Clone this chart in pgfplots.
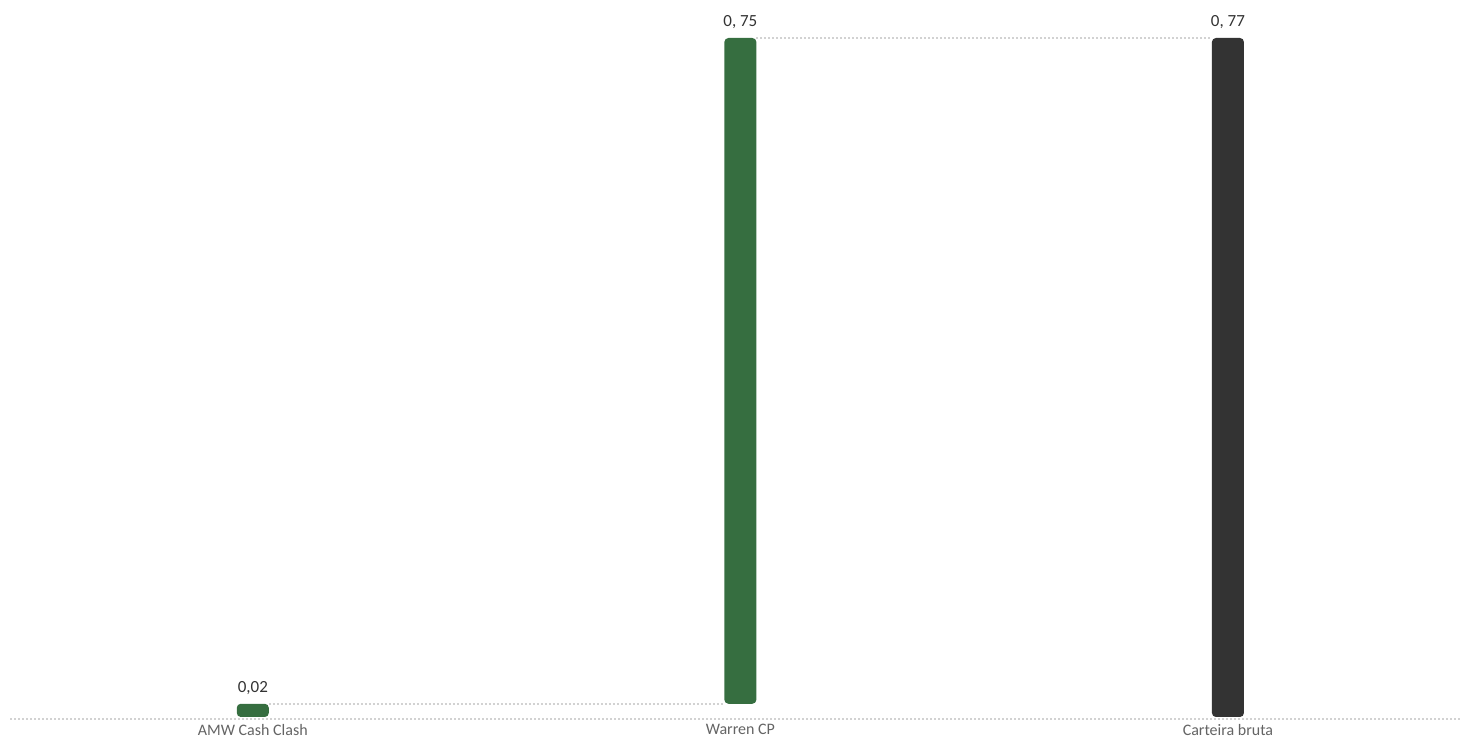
\documentclass[border=0pt]{standalone}
\usepackage{pgfplots}
\pgfplotsset{compat=1.18}
\usepackage{fontspec}
\setmainfont{Carlito}
\definecolor{barGreen}{RGB}{54,110,64}
\definecolor{barDark}{RGB}{51,51,51}
\definecolor{lblGray}{RGB}{100,100,100}
\definecolor{dotGray}{RGB}{210,210,210}

\begin{document}
\begin{tikzpicture}
% 1 px of the reference = 0.5pt
\useasboundingbox (-5pt,-9pt) rectangle (725pt,359.5pt);
\begin{axis}[
    at={(0,0)}, anchor=south west,
    scale only axis,
    width=725pt, height=340.5pt,
    xmin=-0.498, xmax=2.476,
    ymin=-0.00227, ymax=0.77,
    ybar stacked,
    bar width=16pt,
    clip=false,
    axis y line=none,
    axis x line*=bottom,
    x axis line style={dotGray, line width=0.9pt, dash pattern=on 1pt off 1pt, -},
    xtick={0,1,2},
    xticklabels={AMW Cash Clash, Warren CP, Carteira bruta},
    major tick length=0pt,
    xticklabel style={font=\fontsize{8}{9}\selectfont, text=lblGray, anchor=north, inner sep=1pt, yshift=-1.5pt},
]
% invisible base of the floating bar
\addplot[draw=none, fill=none] coordinates {(0,0) (1,0.015) (2,0)};
% steps
\addplot[fill=barGreen, draw=none, rounded corners=2pt]
    coordinates {(0,0.015) (1,0.755) (2,0)};
% total
\addplot[fill=barDark, draw=none, rounded corners=2pt]
    coordinates {(0,0) (1,0) (2,0.77)};
\end{axis}
\begin{axis}[
    at={(0,0)}, anchor=south west,
    scale only axis,
    width=725pt, height=340.5pt,
    xmin=-0.498, xmax=2.476,
    ymin=-0.00227, ymax=0.77,
    hide axis, clip=false,
    point meta=explicit symbolic,
    every node near coord/.append style={font=\fontsize{8.5}{10}\selectfont, text=barDark, anchor=south, inner sep=1pt, yshift=3.5pt},
]
% connectors
\addplot[dotGray, line width=0.9pt, dash pattern=on 1pt off 1pt]
    coordinates {(0.033,0.015) (0.967,0.015)};
\addplot[dotGray, line width=0.9pt, dash pattern=on 1pt off 1pt]
    coordinates {(1.033,0.77) (1.967,0.77)};
% value labels at the bar tops
\addplot[draw=none, mark=none, nodes near coords]
    coordinates {(0,0.015)[0,02] (1,0.77)[0, 75] (2,0.77)[0, 77]};
\end{axis}
\end{tikzpicture}
\end{document}
